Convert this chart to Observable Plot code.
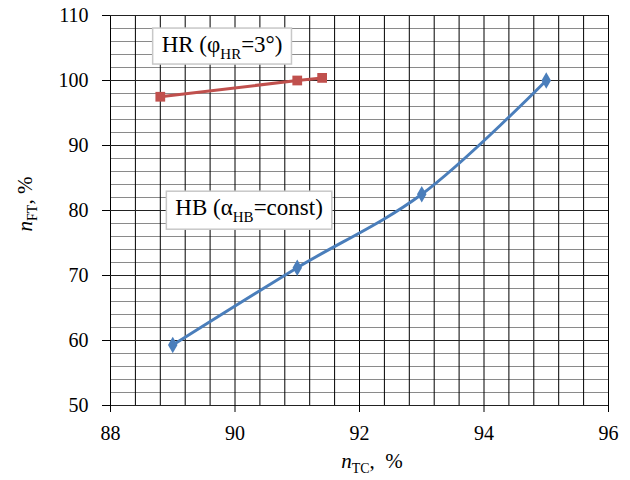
<!DOCTYPE html>
<html><head>
<meta charset="utf-8">
<script src="https://cdn.jsdelivr.net/npm/d3@7"></script>
<script src="https://cdn.jsdelivr.net/npm/@observablehq/plot@0.6"></script>
</head><body style="margin:0"><div id="chart"></div>
<script>
// HR series (phi_HR = 3 deg)
const hrX = [88.8, 91.0, 91.4];
const hrY = [97.5, 100.0, 100.4];
// HB series (alpha_HB = const)
const hbX = [89, 91, 93, 95];
const hbY = [59.3, 71.2, 82.5, 100];
// ticks
const xTicks = [88, 90, 92, 94, 96];
const yTicks = [50, 60, 70, 80, 90, 100, 110];
const xGrid = d3.range(0, 21).map(i => +(88 + i * 0.4).toFixed(1));
const yGrid = d3.range(0, 31).map(i => 50 + i * 2);
// annotation labels: main text, subscript, rest, x anchor, y baseline
const labelMain = ["HR (\u03C6", "HB (\u03B1"];
const labelSub = ["HR", "HB"];
const labelRest = ["=3\u00B0)", "=const)"];
const labelX = [88.83, 89.05];
const labelY = [104.3, 79.2];

const hr = hrX.map((x, i) => ({x, y: hrY[i]}));
const hb = hbX.map((x, i) => ({x, y: hbY[i]}));
const ff = "Liberation Serif";

const plot = Plot.plot({
  width: 630, height: 480,
  marginLeft: 110, marginRight: 22, marginTop: 15, marginBottom: 75,
  x: {domain: [88, 96]},
  y: {domain: [50, 110]},
  style: {fontFamily: ff, fontSize: "20px"},
  marks: [
    Plot.ruleY(yGrid.filter(v => v % 10 !== 0), {y: d => d, stroke: "#8a8a8a", strokeWidth: 1.2, strokeOpacity: 1}),
    Plot.ruleX(xGrid, {x: d => d, stroke: "#000", strokeWidth: 1, strokeOpacity: 1}),
    Plot.ruleY(yTicks, {y: d => d, stroke: "#222", strokeWidth: 1.2, strokeOpacity: 1}),
    Plot.axisX({ticks: xTicks, tickSize: 7, tickPadding: 13, label: null, tickFormat: d => d, stroke: "#000"}),
    Plot.axisY({ticks: yTicks, tickSize: 8, tickPadding: 14, label: null, tickFormat: d => d, stroke: "#000"}),
    Plot.line(hr, {x: "x", y: "y", stroke: "#c0504d", strokeWidth: 3}),
    Plot.dot(hr, {x: "x", y: "y", symbol: "square", r: 5.5, fill: "#c0504d", stroke: "none"}),
    Plot.line(hb, {x: "x", y: "y", stroke: "#4a7ebb", strokeWidth: 3, curve: "catmull-rom"}),
    Plot.dot(hb, {x: "x", y: "y", symbol: "diamond", r: 5, fill: "#4a7ebb", stroke: "none"})
  ]
});
document.getElementById("chart").appendChild(plot);

const svg = d3.select(plot);
const sx = plot.scale("x"), sy = plot.scale("y");

// annotation boxes
labelMain.forEach((m, i) => {
  const g = svg.append("g");
  const rect = g.append("rect");
  const t = g.append("text")
    .attr("x", sx.apply(labelX[i])).attr("y", sy.apply(labelY[i]))
    .attr("text-anchor", "start").attr("font-family", ff)
    .attr("font-size", 23).attr("fill", "#000");
  t.append("tspan").text(m);
  t.append("tspan").attr("font-size", 15).attr("dy", 7).text(labelSub[i]);
  t.append("tspan").attr("dy", -7).text(labelRest[i]);
  const bb = t.node().getBBox();
  rect.attr("x", bb.x - 9).attr("y", sy.apply(labelY[i]) - 24)
    .attr("width", bb.width + 18).attr("height", 36 + i * 2)
    .attr("fill", "#fff").attr("stroke", "#c8c8c8").attr("stroke-width", 1.5);
});

// axis titles
const xt = svg.append("text").attr("x", 372).attr("y", 468).attr("text-anchor", "middle")
  .attr("font-family", ff).attr("font-size", 21).attr("fill", "#000");
xt.append("tspan").attr("font-style", "italic").text("n");
xt.append("tspan").attr("font-size", 14).attr("dy", 5).text("TC");
xt.append("tspan").attr("dy", -5).text(",  %");

const yt = svg.append("text").attr("transform", "translate(32,204) rotate(-90)").attr("text-anchor", "middle")
  .attr("font-family", ff).attr("font-size", 21).attr("fill", "#000");
yt.append("tspan").attr("font-style", "italic").text("n");
yt.append("tspan").attr("font-size", 14).attr("dy", 5).text("FT");
yt.append("tspan").attr("dy", -5).text(", %");
</script>
</body></html>
